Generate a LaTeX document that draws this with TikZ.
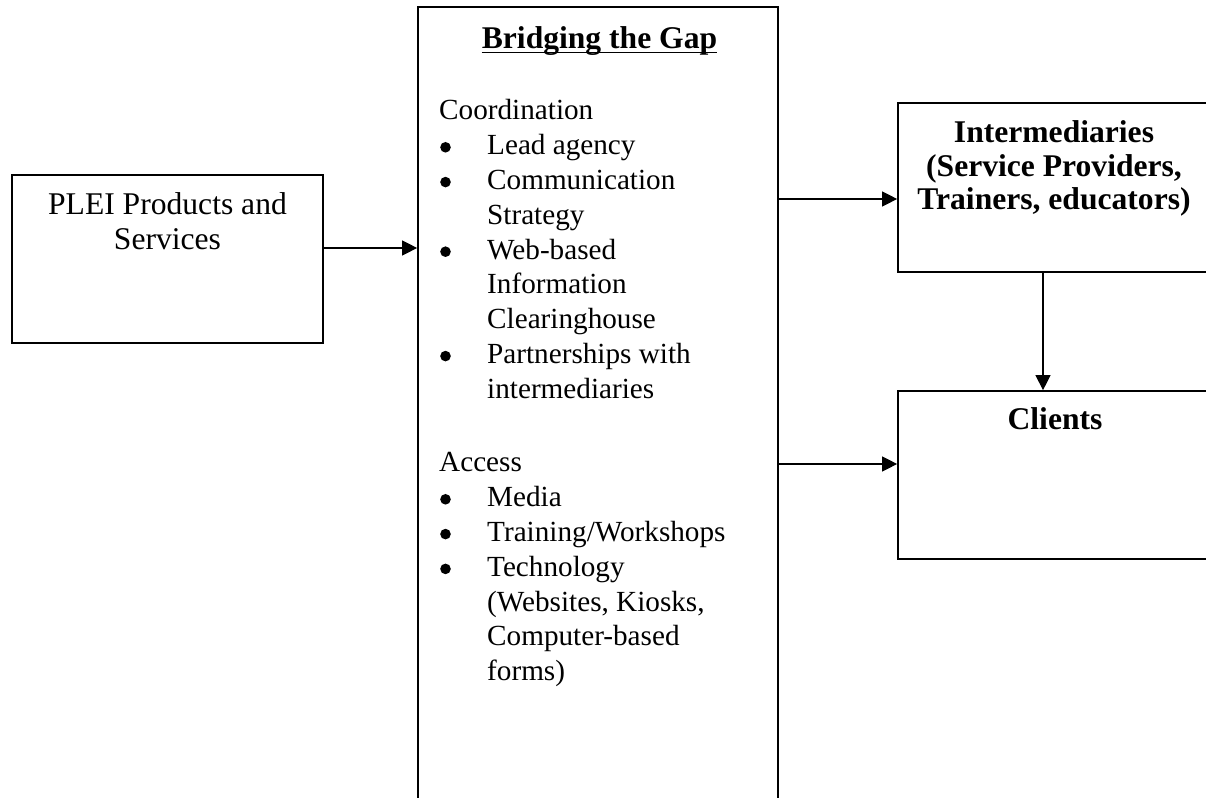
\documentclass[tikz,border=0pt]{standalone}
\usepackage{fontspec}
\setmainfont{Liberation Serif}
\usetikzlibrary{positioning, arrows.meta}
\tikzset{
  box/.style={draw, line width=1.7pt, inner sep=0pt},
  flow/.style={-{Triangle[length=15pt,width=15pt]}, line width=1.2pt},
  bigtext/.style={font=\fontsize{31.6}{35}\selectfont, inner sep=0pt},
  headtext/.style={font=\bfseries\fontsize{31.6}{33.5}\selectfont, inner sep=0pt},
  listtext/.style={font=\fontsize{29.2}{34.8}\selectfont, inner sep=0pt, anchor=base west}
}
\newcommand{\itm}{\makebox[48pt][l]{\hspace{1pt}\tikz[baseline={(0,-7.5pt)}]\fill (0,0) circle (5.3pt);}}
\newcommand{\ind}{\hspace*{48pt}}

\begin{document}
\begin{tikzpicture}[x=1pt,y=1pt]
    \clip (0,0) rectangle (1206,797);
    \node [box, minimum width=311pt, minimum height=168pt] (plei) at (167.5,538) {};
    \node [box, minimum width=360pt, minimum height=823pt] (gap) at (598,378.5) {};
    \node [box, minimum width=313pt, minimum height=169pt] (inter) at (1054.5,609.5) {};
    \node [box, minimum width=313pt, minimum height=168pt] (clients) at (1054.5,322) {};

    \node [bigtext, anchor=base] (pleitext) at (167.5,582) {\begin{tabular}[t]{@{}c@{}}PLEI Products and\\ Services\end{tabular}};
    \node [headtext, anchor=base] (gaptitle) at (599.5,748) {Bridging the Gap};
    \draw [line width=1.8pt] ([yshift=-3.5pt]gaptitle.base west) -- ([yshift=-3.5pt]gaptitle.base east);
    \node [listtext] (coordlist) at (439,677) {\begin{tabular}[t]{@{}l@{}}
      Coordination\\
      \itm Lead agency\\
      \itm Communication\\
      \ind Strategy\\
      \itm Web-based\\
      \ind Information\\
      \ind Clearinghouse\\
      \itm Partnerships with\\
      \ind intermediaries
    \end{tabular}};
    \node [listtext] (accesslist) at (439,325) {\begin{tabular}[t]{@{}l@{}}
      Access\\
      \itm Media\\
      \itm Training/Workshops\\
      \itm Technology\\
      \ind (Websites, Kiosks,\\
      \ind Computer-based\\
      \ind forms)
    \end{tabular}};
    \node [headtext, anchor=base] (intertext) at (1054,654) {\begin{tabular}[t]{@{}c@{}}Intermediaries\\ (Service Providers,\\ Trainers, educators)\end{tabular}};
    \node [headtext, anchor=base] (clientstext) at (1055,367) {Clients};

    \coordinate (pleiout) at ([yshift=11pt]plei.east);
    \coordinate (interin) at ([yshift=-11.5pt]inter.west);
    \coordinate (clientsin) at ([yshift=11pt]clients.west);
    \coordinate (interout) at ([xshift=-11.5pt]inter.south);
    \draw [flow] (pleiout) -- (pleiout -| gap.west);
    \draw [flow] (interin -| gap.east) -- (interin);
    \draw [flow] (clientsin -| gap.east) -- (clientsin);
    \draw [flow] (interout) -- (interout |- clients.north);
\end{tikzpicture}
\end{document}
